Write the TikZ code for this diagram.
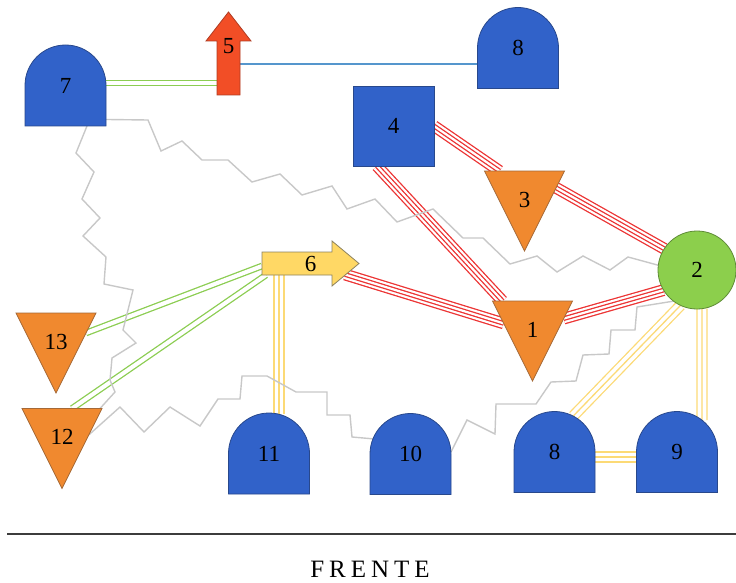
\documentclass[tikz,border=0pt]{standalone}
\usepackage{fontspec}
\setmainfont{Liberation Serif}
\usetikzlibrary{calc}
\pgfdeclarelayer{bg}
\pgfdeclarelayer{mid}
\pgfsetlayers{bg,mid,main}

\definecolor{domeblue}{RGB}{49,98,201}
\definecolor{domeedge}{RGB}{40,72,140}
\definecolor{triorange}{RGB}{240,137,47}
\definecolor{triedge}{RGB}{165,105,55}
\definecolor{hubgreen}{RGB}{140,207,76}
\definecolor{hubedge}{RGB}{95,140,55}
\definecolor{arrowred}{RGB}{242,78,38}
\definecolor{arrowrededge}{RGB}{175,60,35}
\definecolor{arrowyellow}{RGB}{255,216,101}
\definecolor{arrowyellowedge}{RGB}{140,130,95}
\definecolor{wirered}{RGB}{236,52,52}
\definecolor{wiregreen}{RGB}{140,205,82}
\definecolor{wireyellow}{RGB}{252,218,118}
\definecolor{wireblue}{RGB}{85,150,205}
\definecolor{wiregray}{RGB}{200,200,200}
\definecolor{rulegray}{RGB}{60,60,60}

% raise a label inside its shape without changing the node size
\newcommand{\liftnum}[2]{\raisebox{#1}[0pt][0pt]{#2}}

% outlines drawn inside the frame of a named node
\newcommand{\drawdome}[1]{%
  \path[domebody] (#1.south west) -- (#1.west)
    arc[start angle=180, end angle=0, radius=40.5pt] -- (#1.south east) -- cycle;}
\newcommand{\drawtri}[1]{%
  \path[tribody] (#1.north west) -- (#1.north east) -- (#1.south) -- cycle;}
\newcommand{\drawuparrow}[1]{%
  \path[redbody] ($(#1.north west)+(22.5,0)$) -- ($(#1.north west)+(45,29)$)
    -- ($(#1.north west)+(34,29)$) -- ($(#1.north west)+(34,83)$)
    -- ($(#1.north west)+(11,83)$) -- ($(#1.north west)+(11,29)$)
    -- ($(#1.north west)+(0,29)$) -- cycle;}
\newcommand{\drawrightarrow}[1]{%
  \path[yellowbody] ($(#1.north west)+(0,11)$) -- ($(#1.north west)+(70,11)$)
    -- ($(#1.north west)+(70,0)$) -- ($(#1.north west)+(97,22.5)$)
    -- ($(#1.north west)+(70,45)$) -- ($(#1.north west)+(70,34)$)
    -- ($(#1.north west)+(0,34)$) -- cycle;}

\tikzset{
  unit/.style={inner sep=0pt, outer sep=0pt, font=\fontsize{23}{23}\selectfont, text=black},
  domeframe/.style={unit, minimum width=81pt, minimum height=81pt},
  triframe/.style={unit, minimum width=80pt, minimum height=80pt},
  block/.style={unit, minimum width=81pt, minimum height=80pt, fill=domeblue, draw=domeedge, line width=0.8pt},
  hub/.style={unit, circle, minimum size=78pt, fill=hubgreen, draw=hubedge, line width=0.8pt},
  domebody/.style={fill=domeblue, draw=domeedge, line width=0.8pt},
  tribody/.style={fill=triorange, draw=triedge, line width=0.8pt},
  redbody/.style={fill=arrowred, draw=arrowrededge, line width=0.8pt},
  yellowbody/.style={fill=arrowyellow, draw=arrowyellowedge, line width=0.8pt},
  redwire/.style={line width=11.8pt, draw=wirered,
      postaction={draw=white, line width=9.2pt},
      postaction={draw=wirered, line width=4.8pt},
      postaction={draw=white, line width=2.2pt}},
  greenwire/.style={draw=wiregreen, line width=1.3pt, double=white, double distance=4.1pt},
  yellowwire/.style={line width=11.3pt, draw=wireyellow,
      postaction={draw=white, line width=8.7pt},
      postaction={draw=wireyellow, line width=1.3pt}},
  bluewire/.style={draw=wireblue, line width=1.3pt},
  zigwire/.style={draw=wiregray, line width=1.4pt, line join=miter},
}

\begin{document}
\begin{tikzpicture}[x=1pt, y=-1pt]
\useasboundingbox (0,0) rectangle (736,583);

% units
\node[domeframe] (n7) at (65.5,85.5) {7};
\node[domeframe] (n8a) at (518,48) {8};
\node[block] (n4) at (393.5,126) {4};
\node[unit, minimum width=45pt, minimum height=83pt] (n5) at (228.5,53.5) {\liftnum{-0.25pt}{5}};
\node[unit, minimum width=97pt, minimum height=45pt] (n6) at (310.5,263.5) {6};
\node[triframe] (n3) at (524.5,211) {\liftnum{4pt}{3}};
\node[hub] (n2) at (697,270) {2};
\node[triframe] (n1) at (532.5,341) {\liftnum{4pt}{1}};
\node[triframe] (n13) at (56,353) {\liftnum{4pt}{13}};
\node[triframe] (n12) at (62,448.5) {\liftnum{4pt}{12}};
\node[domeframe] (n11) at (269,453.5) {11};
\node[domeframe] (n10) at (410.5,454) {10};
\node[domeframe] (n8b) at (554.5,452) {8};
\node[domeframe] (n9) at (677,452) {9};

\begin{pgfonlayer}{mid}
  \drawdome{n7} \drawdome{n8a} \drawdome{n11} \drawdome{n10} \drawdome{n8b} \drawdome{n9}
  \drawtri{n3} \drawtri{n1} \drawtri{n13} \drawtri{n12}
  \drawuparrow{n5}
  \drawrightarrow{n6}
\end{pgfonlayer}

\begin{pgfonlayer}{bg}
  % red four-line links
  \draw[redwire] (n4.east) -- ($(n3.north west)+(15,0)$);
  \draw[redwire] ($(n3.north east)!0.21!(n3.south)$) -- (n2.147);
  \draw[redwire] ($(n4.south)+(-16.5,0)$) -- ($(n1.north west)+(10,0)$);
  \draw[redwire] ($(n6.south west)+(83,-11.5)$) -- ($(n1.north west)!0.28!(n1.south)$);
  \draw[redwire] ($(n1.north east)!0.22!(n1.south)$) -- (n2.211);

  % green double links
  \draw[greenwire] ($(n7.east)+(0,-2.5)$) -- ($(n5.south west)+(11,-12)$);
  \draw[greenwire] ($(n13.north east)!0.25!(n13.south)$) -- ($(n6.west)+(0,2.5)$);
  \draw[greenwire] ($(n12.north)+(10,0)$) -- ($(n6.south west)+(4,-11)$);

  % yellow triple links
  \draw[yellowwire] ($(n6.south west)+(17,-11)$) -- ($(n11.north)+(10,1.3)$);
  \draw[yellowwire] (n2.245) -- ($(n8b.center)+(62.5:40.5pt)$);
  \draw[yellowwire] ($(n2.south)+(5,-0.3)$) -- ($(n9.center)+(51.9:40.5pt)$);
  \draw[yellowwire] ($(n8b.east)+(0,5)$) -- ($(n9.west)+(0,5)$);

  % single blue link
  \draw[bluewire] ($(n5.north east)+(-11,52)$) -- ($(n8a.west)+(0,16)$);

  % gray zigzag runs
  \draw[zigwire] (n7.-40) -- (148,120) -- (161,151) -- (182,141) -- (202,160)
    -- (228,160) -- (252,182) -- (280,174) -- (302,195) -- (332,186) -- (347,209)
    -- (375,199) -- (397,222) -- (433,209) -- (463,238) -- (483,238) -- (510,264)
    -- (537,256) -- (557,272) -- (583,256) -- (610,270) -- (628,257) -- (n2.173);
  \draw[zigwire] ($(n7.south)+(21.5,0)$) -- (76,153) -- (94,172) -- (82,199)
    -- (100,218) -- (83,236) -- (106,257) -- (104,284) -- (133,290) -- (123,330)
    -- (136,343) -- (112,358) -- (110,380) -- (115,392) -- ($(n12.north east)+(-2,0)$);
  \draw[zigwire] ($(n12.north east)!0.33!(n12.south)$) -- (120,407) -- (144,432)
    -- (170,407) -- (200,426) -- (218,399) -- (240,399) -- (242,376) -- (267,376)
    -- (296,392) -- (327,392) -- (327,415) -- (350,415) -- (352,437)
    -- ($(n10.center)+(158:40.5pt)$);
  \draw[zigwire] ($(n10.east)+(0,-2)$) -- (467,420) -- (495,434) -- (496,404)
    -- (536,404) -- (551,382) -- (576,381) -- (583,355) -- (609,354) -- (611,330)
    -- (635,330) -- (637,307) -- (n2.233);
\end{pgfonlayer}

% front line and caption
\coordinate (ruleL) at (7,534);
\coordinate (ruleR) at (736,534);
\draw[rulegray, line width=1.4pt] (ruleL) -- (ruleR);
\node[font=\fontsize{25}{25}\selectfont, inner sep=0pt] (front) at (370,569)
  {F\hspace{5pt}R\hspace{5pt}E\hspace{5pt}N\hspace{5pt}T\hspace{5pt}E};
\end{tikzpicture}
\end{document}
